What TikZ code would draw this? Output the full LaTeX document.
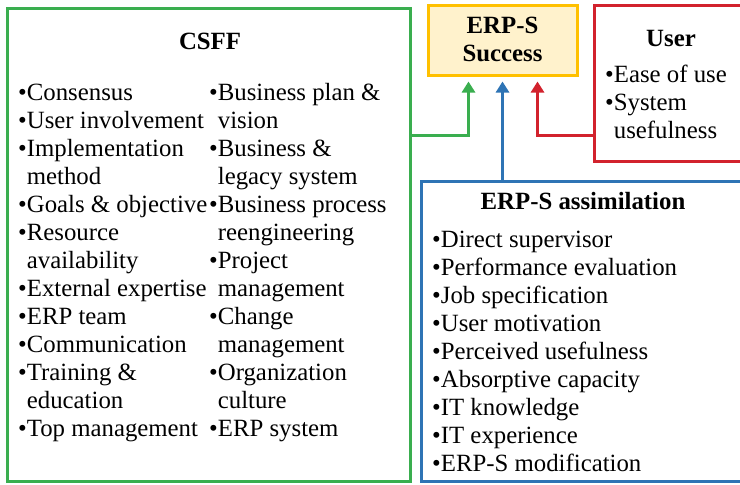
\documentclass[tikz,border=0pt]{standalone}
\usepackage{fontspec}
\setmainfont{Liberation Serif}
\usetikzlibrary{ % tikz packages
    arrows.meta,positioning
}
\definecolor{csffgreen}{HTML}{3AAE4F}
\definecolor{assimblue}{HTML}{2E74B5}
\definecolor{userred}{HTML}{D2222D}
\definecolor{succgold}{HTML}{FFC000}
\definecolor{succfill}{HTML}{FFF2CC}
\tikzset{
    box/.style={draw, line width=3pt, inner sep=0pt},
    item/.style={anchor=base west, inner sep=0pt,
        font=\fontsize{24.8}{28}\selectfont},
    head/.style={anchor=base, inner sep=0pt,
        font=\fontsize{24.8}{28}\selectfont\bfseries},
    link/.style={line width=3pt, -{Triangle[width=13pt,length=11pt]}}
}
\newcommand{\bul}{\textbullet}
\newcommand{\gap}{\hphantom{\textbullet}}

\begin{document}
\begin{tikzpicture}[x=1pt,y=-1pt]
        \clip (0,0) rectangle (740,485);

        % boxes
        \node[box, draw=csffgreen, minimum width=403pt, minimum height=473pt] (csff) at (208.5,245.3) {};
        \node[box, draw=succgold, fill=succfill, minimum width=149pt, minimum height=70pt] (succ) at (502.5,40) {};
        \node[box, draw=userred, minimum width=156pt, minimum height=156pt] (user) at (672,83) {};
        \node[box, draw=assimblue, minimum width=327pt, minimum height=300pt] (assim) at (584.5,331.7) {};

        % titles
        \node[head] (csfft) at (210,49) {CSFF};
        \node[head] (succt1) at (502.5,33) {ERP-S};
        \node[head] (succt2) at (502.5,61) {Success};
        \node[head] (usert) at (671,46) {User};
        \node[head] (assimt) at (583,209) {ERP-S assimilation};

        % CSFF items
        \foreach \t [count=\i] in {\bul Consensus, \bul User involvement,
            \bul Implementation, \gap method, \bul Goals \& objective,
            \bul Resource, \gap availability, \bul External expertise,
            \bul ERP team, \bul Communication, \bul Training \&,
            \gap education, \bul Top management}
            \node[item] (cl\i) at (18,72+28*\i) {\t};
        \foreach \t [count=\i] in {\bul Business plan \&, \gap vision,
            \bul Business \&, \gap legacy system, \bul Business process,
            \gap reengineering, \bul Project, \gap management,
            \bul Change, \gap management, \bul Organization,
            \gap culture, \bul ERP system}
            \node[item] (cr\i) at (209,72+28*\i) {\t};

        % user items
        \foreach \t [count=\i] in {\bul Ease of use, \bul System, \gap usefulness}
            \node[item] (u\i) at (605,54+28*\i) {\t};

        % assimilation items
        \foreach \t [count=\i] in {\bul Direct supervisor,
            \bul Performance evaluation, \bul Job specification,
            \bul User motivation, \bul Perceived usefulness,
            \bul Absorptive capacity, \bul IT knowledge,
            \bul IT experience, \bul ERP-S modification}
            \node[item] (a\i) at (432,219+28*\i) {\t};

        % links
        \coordinate (j) at (0,135);
        \draw[link, csffgreen] (csff.east |- j) -| ([xshift=-34pt,yshift=-5pt]succ.south);
        \draw[link, assimblue] (succ.south |- assim.north) -- ([yshift=-5pt]succ.south);
        \draw[link, userred] (user.west |- j) -| ([xshift=35pt,yshift=-5pt]succ.south);
    \end{tikzpicture}
\end{document}
